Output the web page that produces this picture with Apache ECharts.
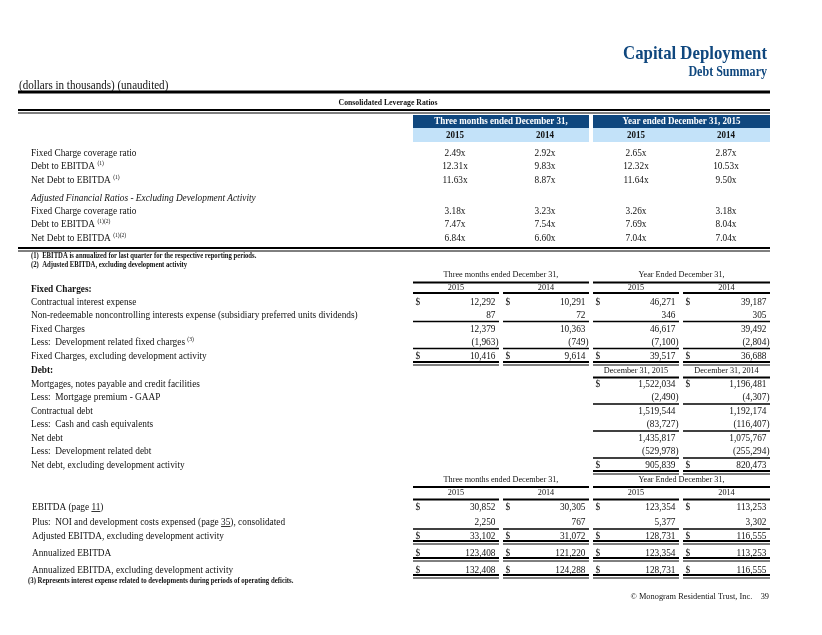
<!DOCTYPE html>
<html><head><meta charset="utf-8">
<script src="https://cdn.jsdelivr.net/npm/echarts@6/dist/echarts.min.js"></script>
<style>html,body{margin:0;padding:0;background:#fff}#c{width:822px;height:635px}</style>
</head><body><div id="c"></div><script>
// ---------------- DATA ----------------
const titleMain = 'Capital Deployment';
const titleSub = 'Debt Summary';
const unitsNote = '(dollars in thousands) (unaudited)';
const ratioTableTitle = 'Consolidated Leverage Ratios';
const ratioGroupHeaders = ['Three months ended December 31,', 'Year ended December 31, 2015'];
const yearLabels = ['2015', '2014', '2015', '2014'];
const ratioLabels = ['Fixed Charge coverage ratio', 'Debt to EBITDA', 'Net Debt to EBITDA'];
const ratioNotes = ['', '(1)', '(1)'];
const ratioFixedCharge = ['2.49x', '2.92x', '2.65x', '2.87x'];
const ratioDebtToEbitda = ['12.31x', '9.83x', '12.32x', '10.53x'];
const ratioNetDebtToEbitda = ['11.63x', '8.87x', '11.64x', '9.50x'];
const adjustedHeading = 'Adjusted Financial Ratios - Excluding Development Activity';
const adjNotes = ['', '(1)(2)', '(1)(2)'];
const adjFixedCharge = ['3.18x', '3.23x', '3.26x', '3.18x'];
const adjDebtToEbitda = ['7.47x', '7.54x', '7.69x', '8.04x'];
const adjNetDebtToEbitda = ['6.84x', '6.60x', '7.04x', '7.04x'];
const ratioFootnotes = ['(1)  EBITDA is annualized for last quarter for the respective reporting periods.',
                        '(2)  Adjusted EBITDA, excluding development activity'];

const periodHeaders = ['Three months ended December 31,', 'Year Ended December 31,'];
const fixedTitle = 'Fixed Charges:';
const fixedLabels = ['Contractual interest expense',
  'Non-redeemable noncontrolling interests expense (subsidiary preferred units dividends)',
  'Fixed Charges', 'Less:  Development related fixed charges', 'Fixed Charges, excluding development activity'];
const fixedNotes = ['', '', '', '(3)', ''];
const fixedContractual = [12292, 10291, 46271, 39187];
const fixedNonRedeemable = [87, 72, 346, 305];
const fixedTotal = [12379, 10363, 46617, 39492];
const fixedDevelopment = [-1963, -749, -7100, -2804];
const fixedExclDev = [10416, 9614, 39517, 36688];

const debtTitle = 'Debt:';
const debtHeaders = ['December 31, 2015', 'December 31, 2014'];
const debtLabels = ['Mortgages, notes payable and credit facilities', 'Less:  Mortgage premium - GAAP',
  'Contractual debt', 'Less:  Cash and cash equivalents', 'Net debt', 'Less:  Development related debt',
  'Net debt, excluding development activity'];
const debtMortgages = [1522034, 1196481];
const debtPremium = [-2490, -4307];
const debtContractual = [1519544, 1192174];
const debtCash = [-83727, -116407];
const debtNet = [1435817, 1075767];
const debtDevelopment = [-529978, -255294];
const debtNetExclDev = [905839, 820473];

const ebitdaLabels = ['EBITDA (page 11)', 'Plus:  NOI and development costs expensed (page 35), consolidated',
  'Adjusted EBITDA, excluding development activity', 'Annualized EBITDA',
  'Annualized EBITDA, excluding development activity'];
const ebitdaValues = [30852, 30305, 123354, 113253];
const ebitdaNoiDev = [2250, 767, 5377, 3302];
const ebitdaAdjusted = [33102, 31072, 128731, 116555];
const ebitdaAnnualized = [123408, 121220, 123354, 113253];
const ebitdaAnnualizedAdj = [132408, 124288, 128731, 116555];
const footnote3 = '(3) Represents interest expense related to developments during periods of operating deficits.';
const copyright = '\u00A9 Monogram Residential Trust, Inc.    39';

// ---------------- LAYOUT / STYLE ----------------
const FONT = "'Liberation Serif','Times New Roman',serif";
const SX = 0.93;
const NAVY = '#0f477e';
const LIGHT = '#c3e2f9';
const INK = '#111111';
const els = [];
function T(x, y, text, o = {}) {
  const font = [o.italic ? 'italic' : '', o.bold ? 'bold' : '', (o.size || 10) + 'px', FONT].join(' ').trim();
  const st = { text, fill: o.fill || INK, font, align: o.align || 'left', verticalAlign: 'middle' };
  if (o.rich) st.rich = o.rich;
  els.push({ type: 'text', x, y, scaleX: o.sx != null ? o.sx : SX, silent: true, style: st });
}
function L(x1, x2, y, w) {
  els.push({ type: 'line', silent: true, shape: { x1, y1: y, x2, y2: y }, style: { stroke: '#000', lineWidth: w } });
}
function R(x, y, w, h, fill) {
  els.push({ type: 'rect', silent: true, shape: { x, y, width: w, height: h }, style: { fill } });
}
function label(x, y, text, note, o = {}) {
  if (!note) { T(x, y, text, o); return; }
  T(x, y, '{n|' + text + ' }{s|' + note + '}', Object.assign({}, o, {
    rich: {
      n: { fontSize: 10, fontFamily: FONT, lineHeight: 12, fill: INK },
      s: { fontSize: 6, fontFamily: FONT, lineHeight: 7, verticalAlign: 'top', fill: INK }
    }
  }));
}
function fmt(v) {
  const s = Math.abs(v).toLocaleString('en-US');
  return v < 0 ? '(' + s + ')' : s;
}
const cols = [{ l: 413, r: 499 }, { l: 503, r: 589 }, { l: 593, r: 679 }, { l: 683, r: 770 }];
const groups = [{ l: 413, r: 589 }, { l: 593, r: 770 }];
const ctr = c => (c.l + c.r) / 2;
function money(c, y, v, dollar) {
  T(c.r - (v < 0 ? 0.5 : 3.5), y, fmt(v), { align: 'right' });
  if (dollar) T(c.l + 2.5, y, '$');
}
function colLines(cs, y, w) { cs.forEach(c => L(c.l, c.r, y, w)); }
function dbl(cs, y) { colLines(cs, y, 2); colLines(cs, y + 3, 1); }

// ---- Title
T(767, 53.5, titleMain, { bold: true, size: 19.5, sx: 0.86, fill: NAVY, align: 'right' });
T(767, 72, titleSub, { bold: true, size: 14, sx: 0.86, fill: NAVY, align: 'right' });
T(19, 86, unitsNote, { size: 12, sx: 0.92 });
L(18, 770, 92, 3);

// ---- Leverage ratio table
T(388, 103, ratioTableTitle, { bold: true, size: 8.6, sx: 0.9, align: 'center' });
L(18, 770, 110, 2); L(18, 770, 113, 1);
groups.forEach((g, i) => {
  R(g.l, 115, g.r - g.l, 13, NAVY);
  R(g.l, 128, g.r - g.l, 14, LIGHT);
  T((g.l + g.r) / 2, 121.5, ratioGroupHeaders[i], { bold: true, size: 10, sx: 0.9, fill: '#ffffff', align: 'center' });
});
const ratioCtr = [455, 545, 636, 726];
yearLabels.forEach((yl, i) => T(ratioCtr[i], 135, yl, { bold: true, size: 10, sx: 0.9, align: 'center' }));
const ratioRows = [ratioFixedCharge, ratioDebtToEbitda, ratioNetDebtToEbitda];
const adjRows = [adjFixedCharge, adjDebtToEbitda, adjNetDebtToEbitda];
const ratioY = [153, 166, 180];
const adjY = [211, 224, 238];
ratioRows.forEach((row, r) => {
  label(31, ratioY[r], ratioLabels[r], ratioNotes[r]);
  row.forEach((v, i) => T(ratioCtr[i], ratioY[r], v, { align: 'center' }));
});
T(31, 198, adjustedHeading, { italic: true });
adjRows.forEach((row, r) => {
  label(31, adjY[r], ratioLabels[r], adjNotes[r]);
  row.forEach((v, i) => T(ratioCtr[i], adjY[r], v, { align: 'center' }));
});
L(18, 770, 248, 2); L(18, 770, 251, 1);
T(31, 256, ratioFootnotes[0], { bold: true, size: 7.2, sx: 0.93 });
T(31, 265, ratioFootnotes[1], { bold: true, size: 7.2, sx: 0.93 });

// ---- Fixed charges
periodHeaders.forEach((h, i) => T((groups[i].l + groups[i].r) / 2, 275, h, { size: 9, sx: 0.91, align: 'center' }));
groups.forEach(g => L(g.l, g.r, 282.5, 2));
yearLabels.forEach((yl, i) => T(ctr(cols[i]), 287.5, yl, { size: 9, sx: 0.91, align: 'center' }));
colLines(cols, 293, 2);
T(31, 289, fixedTitle, { bold: true });
const fixedRows = [fixedContractual, fixedNonRedeemable, fixedTotal, fixedDevelopment, fixedExclDev];
const fixedY = [302, 315, 329, 342, 356];
const fixedDollar = [true, false, false, false, true];
fixedRows.forEach((row, r) => {
  label(31, fixedY[r], fixedLabels[r], fixedNotes[r]);
  row.forEach((v, i) => money(cols[i], fixedY[r], v, fixedDollar[r]));
});
colLines(cols, 321.5, 1.5);
colLines(cols, 348.5, 1.5);
dbl(cols, 362);

// ---- Debt
const dcols = [cols[2], cols[3]];
T(31, 370, debtTitle, { bold: true });
debtHeaders.forEach((h, i) => T(ctr(dcols[i]), 371, h, { size: 9, sx: 0.91, align: 'center' }));
colLines(dcols, 377.5, 2);
const debtRows = [debtMortgages, debtPremium, debtContractual, debtCash, debtNet, debtDevelopment, debtNetExclDev];
const debtY = [384, 397, 411, 424, 438, 451, 465];
const debtDollar = [true, false, false, false, false, false, true];
debtRows.forEach((row, r) => {
  T(31, debtY[r], debtLabels[r]);
  row.forEach((v, i) => money(dcols[i], debtY[r], v, debtDollar[r]));
});
colLines(dcols, 404, 1.5);
colLines(dcols, 431, 1.5);
colLines(dcols, 458, 1.5);
dbl(dcols, 471);

// ---- EBITDA
periodHeaders.forEach((h, i) => T((groups[i].l + groups[i].r) / 2, 480, h, { size: 9, sx: 0.91, align: 'center' }));
groups.forEach(g => L(g.l, g.r, 487, 2));
yearLabels.forEach((yl, i) => T(ctr(cols[i]), 493, yl, { size: 9, sx: 0.91, align: 'center' }));
colLines(cols, 499.5, 2);
const ebitdaRows = [ebitdaValues, ebitdaNoiDev, ebitdaAdjusted, ebitdaAnnualized, ebitdaAnnualizedAdj];
const ebitdaY = [507, 522, 536, 553, 570];
const ebitdaDollar = [true, false, true, true, true];
ebitdaRows.forEach((row, r) => {
  T(32, ebitdaY[r], ebitdaLabels[r]);
  row.forEach((v, i) => money(cols[i], ebitdaY[r], v, ebitdaDollar[r]));
});
colLines(cols, 529, 1.5);
dbl(cols, 541);
dbl(cols, 558);
dbl(cols, 575);
// underline page references
(function () {
  const ctx = document.createElement('canvas').getContext('2d');
  ctx.font = '10px ' + FONT;
  [[0, 'EBITDA (page ', '11'], [1, 'Plus:  NOI and development costs expensed (page ', '35']].forEach(([r, pre, ref]) => {
    const x0 = 32 + ctx.measureText(pre).width * SX;
    const w = ctx.measureText(ref).width * SX;
    L(x0, x0 + w, ebitdaY[r] + 4.5, 0.8);
  });
})();
T(28, 581, footnote3, { bold: true, size: 7.3, sx: 0.93 });
T(769, 597, copyright, { size: 9, sx: 0.93, align: 'right' });

const chart = echarts.init(document.getElementById('c'), null, { renderer: 'canvas' });
chart.setOption({ animation: false, graphic: { elements: els } });
</script></body></html>
